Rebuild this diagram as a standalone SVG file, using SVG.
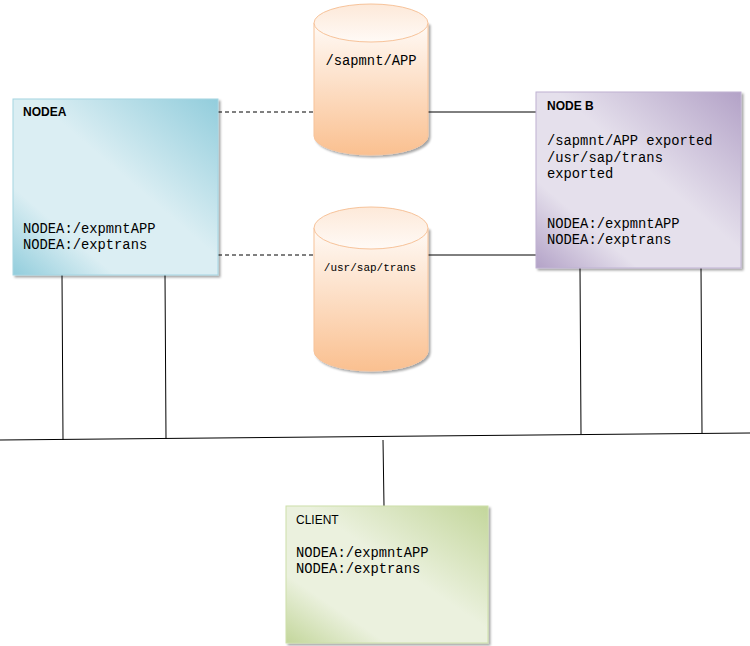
<svg xmlns="http://www.w3.org/2000/svg" width="750" height="646" viewBox="0 0 750 646">
<defs>
<linearGradient id="gA" x1="1" y1="0" x2="0" y2="1">
<stop offset="0" stop-color="#92cddc"/>
<stop offset="0.45" stop-color="#dbeef3"/>
<stop offset="0.75" stop-color="#dbeef3"/>
<stop offset="1" stop-color="#92cddc"/>
</linearGradient>
<linearGradient id="gB" x1="1" y1="0" x2="0" y2="1">
<stop offset="0" stop-color="#b3a2c7"/>
<stop offset="0.45" stop-color="#e5e0ec"/>
<stop offset="0.75" stop-color="#e5e0ec"/>
<stop offset="1" stop-color="#b3a2c7"/>
</linearGradient>
<linearGradient id="gC" x1="1" y1="0" x2="0" y2="1">
<stop offset="0" stop-color="#c3d69b"/>
<stop offset="0.45" stop-color="#ebf1de"/>
<stop offset="0.75" stop-color="#ebf1de"/>
<stop offset="1" stop-color="#c3d69b"/>
</linearGradient>
<linearGradient id="gCyl" x1="0" y1="0" x2="0" y2="1">
<stop offset="0" stop-color="#fffaf6"/>
<stop offset="1" stop-color="#fac090"/>
</linearGradient>
<linearGradient id="gTop" x1="0" y1="0" x2="0" y2="1">
<stop offset="0" stop-color="#fde9d9"/>
<stop offset="1" stop-color="#fffaf6"/>
</linearGradient>
<filter id="sh" x="-5%" y="-5%" width="115%" height="115%">
<feDropShadow dx="2" dy="2" stdDeviation="1" flood-color="#000" flood-opacity="0.35"/>
</filter>
</defs>
<style>
.box{stroke-width:1;filter:url(#sh)}
.mono{font-family:"Liberation Mono","Courier New",monospace;font-size:13.8px;fill:#000}
.title{font-family:"Liberation Sans",Arial,sans-serif;font-size:12px;font-weight:bold;fill:#000}
.line{stroke:#000;stroke-width:1;fill:none}
.dash{stroke:#000;stroke-width:1;stroke-dasharray:4,3;fill:none}
.cyl{fill:url(#gCyl);stroke:#f7c39a;stroke-width:1;filter:url(#sh)}
.ctop{fill:url(#gTop);stroke:#f7c39a;stroke-width:1}
</style>
<g id="connectors">
<line class="dash" x1="218" y1="112" x2="314" y2="112"/>
<line class="line" x1="428" y1="112" x2="536" y2="112"/>
<line class="dash" x1="218" y1="255" x2="314" y2="255"/>
<line class="line" x1="428" y1="255" x2="536" y2="255"/>
<line class="line" x1="0" y1="440" x2="750" y2="433"/>
<line class="line" x1="62" y1="275" x2="63" y2="440"/>
<line class="line" x1="165" y1="275" x2="166" y2="439"/>
<line class="line" x1="580" y1="268" x2="581" y2="434"/>
<line class="line" x1="701" y1="268" x2="702" y2="433"/>
<line class="line" x1="383" y1="440" x2="384" y2="506"/>
</g>
<g id="nodeA">
<rect class="box" x="13" y="99" width="205" height="176" fill="url(#gA)" stroke="#a5d5e2"/>
<text class="title" x="23" y="116">NODEA</text>
<text class="mono" x="23" y="233">NODEA:/expmntAPP</text>
<text class="mono" x="23" y="249">NODEA:/exptrans</text>
</g>
<g id="nodeB">
<rect class="box" x="536" y="92" width="205" height="176" fill="url(#gB)" stroke="#bfb2d2"/>
<text class="title" x="547" y="110">NODE B</text>
<text class="mono" x="547" y="145">/sapmnt/APP exported</text>
<text class="mono" x="547" y="162">/usr/sap/trans</text>
<text class="mono" x="547" y="178">exported</text>
<text class="mono" x="547" y="228">NODEA:/expmntAPP</text>
<text class="mono" x="547" y="244">NODEA:/exptrans</text>
</g>
<g id="cyl1">
<path class="cyl" d="M314,23 L314,136 A57,19 0 0 0 428,136 L428,23 Z"/>
<ellipse class="ctop" cx="371" cy="23" rx="57" ry="19"/>
<text class="mono" x="371" y="65" text-anchor="middle">/sapmnt/APP</text>
</g>
<g id="cyl2">
<path class="cyl" d="M314,228 L314,351 A57,20 0 0 0 428,351 L428,228 Z"/>
<ellipse class="ctop" cx="371" cy="228" rx="57" ry="21"/>
<text class="mono" x="370" y="271" text-anchor="middle" style="font-size:11px">/usr/sap/trans</text>
</g>
<g id="client">
<rect class="box" x="286" y="506" width="202" height="137" fill="url(#gC)" stroke="#cddfa9"/>
<text x="296" y="524" style="font-family:'Liberation Sans',Arial,sans-serif;font-size:12px;fill:#000">CLIENT</text>
<text class="mono" x="296" y="557">NODEA:/expmntAPP</text>
<text class="mono" x="296" y="573">NODEA:/exptrans</text>
</g>
</svg>
